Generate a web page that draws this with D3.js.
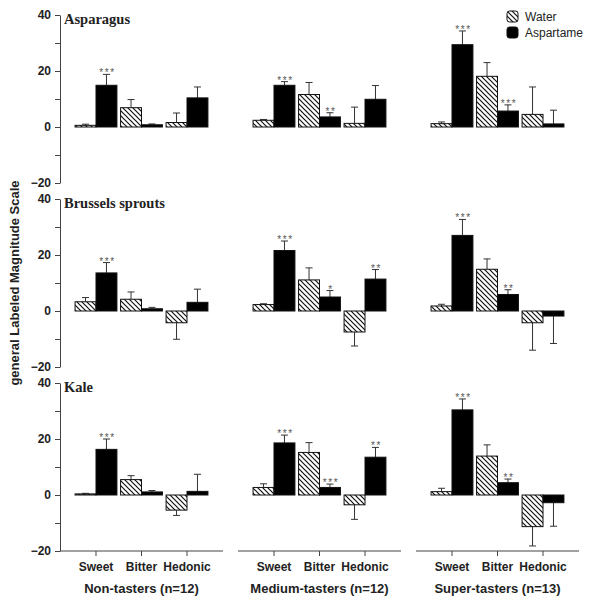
<!DOCTYPE html>
<html>
<head>
<meta charset="utf-8">
<script src="https://cdn.jsdelivr.net/npm/d3@7"></script>
<style>
  html, body { margin: 0; padding: 0; background: #fff; }
  svg { display: block; }
</style>
</head>
<body>
<script>
// ---------- data ----------
const vegetables = ["Asparagus", "Brussels sprouts", "Kale"];
const groups = ["Non-tasters (n=12)", "Medium-tasters (n=12)", "Super-tasters (n=13)"];
const measures = ["Sweet", "Bitter", "Hedonic"];
const seriesNames = ["Water", "Aspartame"];
const yTickValues = [-20, -10, 0, 10, 20, 30, 40];
const yLabelTicks = [-20, 0, 20, 40];

// order: group-major (Non, Medium, Super) x measure (Sweet, Bitter, Hedonic)
const asparagusWater        = [0.6, 6.9, 1.6,   2.4, 11.6, 1.3,   1.2, 18.1, 4.5];
const asparagusWaterErr     = [0.4, 2.9, 3.4,   0.3, 4.3, 5.8,    0.6, 4.9, 9.8];
const asparagusAspartame    = [14.9, 0.8, 10.4, 14.9, 3.6, 9.9,   29.4, 5.7, 1.1];
const asparagusAspartameErr = [3.9, 0.3, 3.9,   1.3, 1.5, 4.9,    4.9, 2.2, 4.9];
const asparagusSig          = ["***", "", "",   "***", "**", "",  "***", "***", ""];

const brusselsWater         = [3.3, 4.2, -4.2,  2.3, 11.1, -7.5,  1.8, 14.9, -4.2];
const brusselsWaterErr      = [1.5, 2.6, 5.9,   0.3, 4.3, 5.0,    0.6, 3.7, 9.8];
const brusselsAspartame     = [13.6, 0.8, 3.1,  21.6, 5.0, 11.4,  27.0, 5.9, -1.8];
const brusselsAspartameErr  = [3.7, 0.5, 4.7,   3.4, 2.3, 3.4,    5.7, 1.7, 9.8];
const brusselsSig           = ["***", "", "",   "***", "*", "**", "***", "**", ""];

const kaleWater             = [0.4, 5.5, -5.4,  2.7, 15.2, -3.5,  1.2, 13.9, -11.3];
const kaleWaterErr          = [0.2, 1.4, 1.9,   1.3, 3.5, 5.2,    1.2, 4.0, 6.9];
const kaleAspartame         = [16.3, 1.1, 1.3,  18.6, 2.7, 13.5,  30.4, 4.4, -2.75];
const kaleAspartameErr      = [3.7, 0.5, 6.1,   2.8, 1.2, 3.5,    3.9, 1.3, 8.4];
const kaleSig               = ["***", "", "",   "***", "***", "**", "***", "**", ""];

const panelData = [
  { water: asparagusWater, waterErr: asparagusWaterErr, asp: asparagusAspartame, aspErr: asparagusAspartameErr, sig: asparagusSig },
  { water: brusselsWater, waterErr: brusselsWaterErr, asp: brusselsAspartame, aspErr: brusselsAspartameErr, sig: brusselsSig },
  { water: kaleWater, waterErr: kaleWaterErr, asp: kaleAspartame, aspErr: kaleAspartameErr, sig: kaleSig }
];

// ---------- layout ----------
const W = 591, H = 601;
const axisX = 60;
const panelTop0 = 15, panelStep = 184, panelH = 168;
const sans = "'Liberation Sans', Arial, Helvetica, sans-serif";
const serif = "'Liberation Serif', 'Times New Roman', serif";
const ink = "#222";

const svg = d3.select("body").append("svg").attr("width", W).attr("height", H);

const defs = svg.append("defs");
const pat = defs.append("pattern")
  .attr("id", "hatch").attr("patternUnits", "userSpaceOnUse")
  .attr("width", 5).attr("height", 5);
pat.append("rect").attr("width", 5).attr("height", 5).attr("fill", "#fff");
pat.append("path")
  .attr("d", "M-1,4 l2,2 M0,0 l5,5 M4,-1 l2,2")
  .attr("stroke", "#111").attr("stroke-width", 1.2);

const groupScale = d3.scaleBand().domain(groups).range([axisX, 579]).paddingInner(0.0843).paddingOuter(0);
const catScale = d3.scaleBand().domain(measures).range([0, groupScale.bandwidth()]).paddingInner(0.08).paddingOuter(0.331);
const subScale = d3.scaleBand().domain(seriesNames).range([0, catScale.bandwidth()]);

panelData.forEach((pd, pi) => {
  const top = panelTop0 + pi * panelStep;
  const y = d3.scaleLinear().domain([-20, 40]).range([top + panelH, top]);
  const g = svg.append("g");

  // y axis
  const yAxis = d3.axisLeft(y).tickValues(yTickValues)
    .tickFormat(d => yLabelTicks.includes(d) ? d3.format("d")(d) : "")
    .tickSize(5).tickSizeOuter(0).tickPadding(4);
  const ya = g.append("g").attr("transform", `translate(${axisX},0)`).call(yAxis);
  ya.selectAll("path,line").attr("stroke", "#444").attr("stroke-width", 1);
  ya.selectAll("text").attr("font-family", sans).attr("font-weight", "bold")
    .attr("font-size", 12).attr("fill", ink);

  // title
  g.append("text").attr("x", axisX + 4).attr("y", top + 9)
    .attr("font-family", serif).attr("font-weight", "bold").attr("font-size", 14.5)
    .attr("fill", ink).text(vegetables[pi]);

  // bars
  const rows = [];
  groups.forEach((grp, gi) => {
    measures.forEach((m, mi) => {
      const idx = gi * 3 + mi;
      rows.push({ grp, m, s: "Water", v: pd.water[idx], e: pd.waterErr[idx], sig: "" });
      rows.push({ grp, m, s: "Aspartame", v: pd.asp[idx], e: pd.aspErr[idx], sig: pd.sig[idx] });
    });
  });
  const xOf = d => groupScale(d.grp) + catScale(d.m) + subScale(d.s);
  const bw = subScale.bandwidth();

  // error bars (drawn first so bars cover the overlap)
  const eb = g.append("g").attr("stroke", "#333").attr("stroke-width", 1);
  rows.forEach(d => {
    const cx = xOf(d) + bw / 2;
    const endV = d.v >= 0 ? d.v + d.e : d.v - d.e;
    eb.append("line").attr("x1", cx).attr("x2", cx).attr("y1", y(d.v)).attr("y2", y(endV));
    eb.append("line").attr("x1", cx - 3.5).attr("x2", cx + 3.5).attr("y1", y(endV)).attr("y2", y(endV));
  });

  g.append("g").selectAll("rect").data(rows).join("rect")
    .attr("x", d => xOf(d))
    .attr("width", bw)
    .attr("y", d => y(Math.max(0, d.v)))
    .attr("height", d => Math.abs(y(d.v) - y(0)))
    .attr("fill", d => d.s === "Water" ? "url(#hatch)" : "#000")
    .attr("stroke", "#111").attr("stroke-width", 1);

  // significance stars
  g.append("g").selectAll("text").data(rows.filter(d => d.sig)).join("text")
    .attr("x", d => xOf(d) + bw / 2 + 1)
    .attr("y", d => y(d.v + d.e) + 2)
    .attr("text-anchor", "middle")
    .attr("font-family", sans).attr("font-size", 10).attr("letter-spacing", 1.5)
    .attr("fill", "#555").text(d => d.sig);

  // x axes only on bottom panel
  if (pi === panelData.length - 1) {
    groups.forEach(grp => {
      const xa = g.append("g")
        .attr("transform", `translate(${groupScale(grp)},${y(-20)})`)
        .call(d3.axisBottom(catScale).tickSize(5).tickSizeOuter(0).tickPadding(6));
      xa.select(".domain").attr("d", `M0,0H${groupScale.bandwidth()}`);
      xa.selectAll("path,line").attr("stroke", "#444").attr("stroke-width", 1);
      xa.selectAll("text").attr("font-family", sans).attr("font-weight", "bold")
        .attr("font-size", 12).attr("fill", ink);
      g.append("text")
        .attr("x", groupScale(grp) + groupScale.bandwidth() / 2)
        .attr("y", y(-20) + 42)
        .attr("text-anchor", "middle")
        .attr("font-family", sans).attr("font-weight", "bold").attr("font-size", 13)
        .attr("fill", ink).text(grp);
    });
  }
});

// y axis label
svg.append("text")
  .attr("transform", "translate(19,283) rotate(-90)")
  .attr("text-anchor", "middle")
  .attr("font-family", sans).attr("font-weight", "bold").attr("font-size", 13)
  .attr("fill", ink).text("general Labeled Magnitude Scale");

// legend
const leg = svg.append("g").attr("transform", "translate(507,11)");
seriesNames.forEach((s, i) => {
  leg.append("rect").attr("x", 0).attr("y", i * 16).attr("width", 11).attr("height", 11)
    .attr("rx", 2.5).attr("fill", s === "Water" ? "url(#hatch)" : "#000")
    .attr("stroke", "#111").attr("stroke-width", 1);
  leg.append("text").attr("x", 18).attr("y", i * 16 + 10)
    .attr("font-family", sans).attr("font-size", 12).attr("fill", ink).text(s);
});
</script>
</body>
</html>
